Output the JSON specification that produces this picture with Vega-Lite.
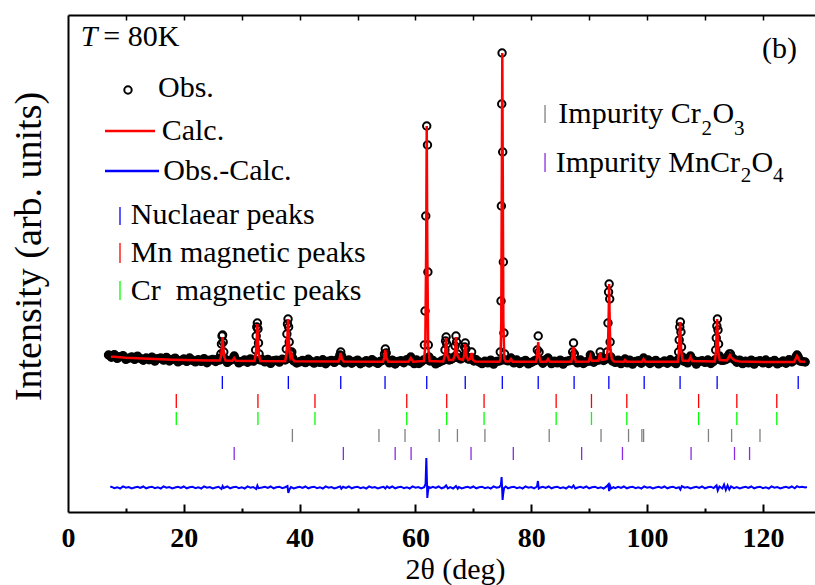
{
 "$schema": "https://vega.github.io/schema/vega-lite/v6.json",
 "width": 747, "height": 497,
 "autosize": {"type": "none"},
 "padding": {"left": 68, "top": 15, "right": 0, "bottom": 73},
 "background": "white",
 "config": {"view": {"stroke": null}, "axis": {"grid": false}, "font": "Liberation Serif, Times New Roman, Times, serif"},
 "resolve": {"axis": {"x": "independent", "y": "independent"}},
 "datasets": {
  "obs": [
   {"x":7.0,"y":157},{"x":7.5,"y":154.8},{"x":8.0,"y":157.4},{"x":8.5,"y":153.7},{"x":9.0,"y":155.3},{"x":9.5,"y":156.4},{"x":10.0,"y":152.6},{"x":10.5,"y":153.9},{"x":11.0,"y":155.1},{"x":11.5,"y":152.7},{"x":12.0,"y":155.9},{"x":12.5,"y":153.5},{"x":13.0,"y":151.8},{"x":13.5,"y":154},{"x":14.0,"y":152.3},{"x":14.5,"y":154.9},{"x":15.0,"y":150.9},{"x":15.5,"y":153.4},{"x":16.0,"y":154},{"x":16.5,"y":151.9},{"x":17.0,"y":154.6},{"x":17.5,"y":151},{"x":18.0,"y":152.6},{"x":18.5,"y":153.8},{"x":19.0,"y":150.2},{"x":19.5,"y":151.6},{"x":20.0,"y":153},{"x":20.5,"y":150.7},{"x":21.0,"y":154},{"x":21.5,"y":151.7},{"x":22.0,"y":150.1},{"x":22.5,"y":152.3},{"x":23.0,"y":150.6},{"x":23.5,"y":153.3},{"x":24.0,"y":149.3},{"x":24.5,"y":151.9},{"x":25.0,"y":152.5},{"x":25.5,"y":150.5},{"x":26.0,"y":153.5},
   {"x":26.2,"y":152},{"x":26.4,"y":158},{"x":26.5,"y":168},{"x":26.6,"y":176},{"x":26.7,"y":177},{"x":26.8,"y":170},{"x":26.9,"y":160},{"x":27.1,"y":153},
   {"x":27.5,"y":149.7},{"x":28.0,"y":151.5},{"x":28.5,"y":153},{"x":28.7,"y":156},{"x":28.9,"y":153},{"x":29.5,"y":149.2},{"x":30.0,"y":150.6},{"x":30.5,"y":152},{"x":31.0,"y":149.8},{"x":31.5,"y":153.1},{"x":32.0,"y":150.9},
   {"x":32.2,"y":152},{"x":32.4,"y":162},{"x":32.5,"y":176},{"x":32.6,"y":185},{"x":32.7,"y":189},{"x":32.8,"y":183},{"x":32.9,"y":169},{"x":33.0,"y":158},{"x":33.2,"y":152},
   {"x":33.5,"y":152.6},{"x":34.0,"y":150.1},{"x":34.5,"y":152.6},{"x":35.0,"y":148.7},{"x":35.5,"y":151.2},{"x":36.0,"y":151.9},{"x":36.5,"y":149.9},{"x":37.0,"y":152.7},
   {"x":37.5,"y":152},{"x":37.7,"y":163},{"x":37.8,"y":178},{"x":37.9,"y":188},{"x":38.0,"y":193},{"x":38.1,"y":185},{"x":38.2,"y":170},{"x":38.35,"y":160},{"x":38.5,"y":158},{"x":38.65,"y":160},{"x":38.8,"y":154},{"x":39.0,"y":151},
   {"x":39.5,"y":149},{"x":40.0,"y":150.2},{"x":40.5,"y":151.6},{"x":41.0,"y":149.4},{"x":41.5,"y":152.7},{"x":42.0,"y":150.5},{"x":42.5,"y":148.9},{"x":43.0,"y":151.2},{"x":43.5,"y":149.6},{"x":44.0,"y":152.2},{"x":44.5,"y":148.3},{"x":45.0,"y":150.9},{"x":45.5,"y":151.6},{"x":46.0,"y":149.6},{"x":46.5,"y":152.4},
   {"x":46.8,"y":152},{"x":46.95,"y":157},{"x":47.1,"y":160},{"x":47.25,"y":156},{"x":47.4,"y":151},
   {"x":47.8,"y":149.1},{"x":48.2,"y":150.6},{"x":48.5,"y":152.1},{"x":49.0,"y":148.8},{"x":49.5,"y":150.6},{"x":50.0,"y":151.9},{"x":50.5,"y":148.3},{"x":51.0,"y":149.8},{"x":51.5,"y":151.2},{"x":52.0,"y":149},{"x":52.5,"y":152.4},{"x":53.0,"y":150.2},{"x":53.5,"y":148.6},{"x":54.0,"y":150.9},
   {"x":54.5,"y":152},{"x":54.65,"y":158},{"x":54.8,"y":163},{"x":54.95,"y":159},{"x":55.1,"y":152},
   {"x":55.5,"y":149.2},{"x":56.0,"y":151.9},{"x":56.5,"y":148},{"x":57.0,"y":150.6},{"x":57.5,"y":151.3},{"x":58.0,"y":149.3},{"x":58.5,"y":152.3},
   {"x":59.0,"y":151},{"x":59.2,"y":155},{"x":59.4,"y":151},
   {"x":59.8,"y":148.4},{"x":60.2,"y":152},{"x":60.6,"y":148.5},{"x":61.0,"y":150.3},
   {"x":61.4,"y":152},{"x":61.55,"y":167},{"x":61.66,"y":201},{"x":61.78,"y":296},{"x":61.95,"y":386},{"x":62.08,"y":367},{"x":62.15,"y":240},{"x":62.22,"y":167},{"x":62.35,"y":155},{"x":62.5,"y":151},
   {"x":63.0,"y":151.6},{"x":63.5,"y":148.1},{"x":64.0,"y":149.6},{"x":64.5,"y":151},
   {"x":64.9,"y":152},{"x":65.1,"y":162},{"x":65.2,"y":171},{"x":65.3,"y":175},{"x":65.4,"y":168},{"x":65.55,"y":155},{"x":65.8,"y":152},{"x":66.1,"y":152.5},{"x":66.4,"y":153.5},{"x":66.7,"y":155},{"x":66.85,"y":166},{"x":67.0,"y":176},{"x":67.1,"y":170},{"x":67.25,"y":158},{"x":67.5,"y":154},{"x":67.8,"y":153},{"x":68.1,"y":154},{"x":68.35,"y":156},{"x":68.5,"y":165},{"x":68.6,"y":169},{"x":68.7,"y":163},{"x":68.85,"y":155},{"x":69.1,"y":153},{"x":69.3,"y":153},{"x":69.5,"y":154},{"x":69.7,"y":160},{"x":69.85,"y":154},{"x":70.1,"y":151},
   {"x":70.5,"y":152.2},{"x":71.0,"y":150},{"x":71.5,"y":148.4},{"x":72.0,"y":150.7},{"x":72.5,"y":149.1},{"x":73.0,"y":151.8},{"x":73.5,"y":147.9},{"x":74.0,"y":150.5},
   {"x":74.5,"y":151},{"x":74.65,"y":160},{"x":74.78,"y":211},{"x":74.84,"y":306},{"x":74.9,"y":408},{"x":74.96,"y":459},{"x":75.07,"y":360},{"x":75.18,"y":250},{"x":75.28,"y":179},{"x":75.4,"y":158},{"x":75.6,"y":152},
   {"x":76.0,"y":151.2},{"x":76.5,"y":154},{"x":77.0,"y":149.2},{"x":77.5,"y":152},{"x":78.0,"y":148.5},{"x":78.5,"y":150.3},{"x":79.0,"y":151.6},{"x":79.5,"y":148.1},{"x":80.0,"y":149.6},{"x":80.5,"y":151},
   {"x":80.9,"y":152},{"x":81.05,"y":162},{"x":81.2,"y":176},{"x":81.35,"y":160},{"x":81.5,"y":152},
   {"x":82.0,"y":148.8},{"x":82.5,"y":152.2},{"x":82.9,"y":154},{"x":83.5,"y":148.4},{"x":84.0,"y":150.7},{"x":84.5,"y":149.1},{"x":85.0,"y":151.8},{"x":85.5,"y":147.9},{"x":86.0,"y":150.5},{"x":86.5,"y":151.2},
   {"x":87.0,"y":152},{"x":87.15,"y":160},{"x":87.3,"y":169},{"x":87.45,"y":158},{"x":87.6,"y":151},
   {"x":88.0,"y":149.2},{"x":88.5,"y":152},{"x":89.0,"y":148.5},{"x":89.5,"y":150.3},
   {"x":90.0,"y":151},{"x":90.2,"y":157},{"x":90.4,"y":151},{"x":90.8,"y":149.8},{"x":91.2,"y":151.6},
   {"x":91.7,"y":152},{"x":91.9,"y":160},{"x":92.05,"y":155},{"x":92.5,"y":151.5},
   {"x":92.9,"y":153},{"x":93.1,"y":160},{"x":93.25,"y":189},{"x":93.35,"y":220},{"x":93.45,"y":228},{"x":93.55,"y":213},{"x":93.62,"y":170},{"x":93.75,"y":155},{"x":94.0,"y":151},
   {"x":94.5,"y":149.6},{"x":95.0,"y":151.8},{"x":95.5,"y":148.4},{"x":95.9,"y":150.7},{"x":96.2,"y":153},{"x":96.6,"y":149.1},{"x":97.0,"y":151.8},{"x":97.5,"y":147.9},{"x":98.0,"y":150.5},{"x":98.5,"y":151.2},{"x":99.0,"y":148.8},{"x":99.4,"y":154},{"x":99.8,"y":151},{"x":100.2,"y":152},{"x":100.5,"y":148.5},{"x":101.0,"y":150.3},{"x":101.5,"y":151.6},{"x":102.0,"y":148.1},{"x":102.5,"y":149.6},{"x":103.0,"y":151},{"x":103.5,"y":148.8},{"x":104.0,"y":152.2},{"x":104.5,"y":150},{"x":105.0,"y":148.4},
   {"x":105.3,"y":152},{"x":105.45,"y":160},{"x":105.55,"y":172},{"x":105.65,"y":185},{"x":105.75,"y":190},{"x":105.85,"y":180},{"x":105.95,"y":165},{"x":106.1,"y":155},{"x":106.3,"y":151},
   {"x":106.6,"y":150.7},{"x":107.0,"y":149.1},{"x":107.3,"y":152},{"x":107.5,"y":156},{"x":107.7,"y":152},
   {"x":108.0,"y":151.8},{"x":108.5,"y":147.9},{"x":109.0,"y":150.5},{"x":109.5,"y":151.2},{"x":110.0,"y":149.6},{"x":110.5,"y":152},{"x":111.0,"y":148.5},{"x":111.4,"y":150.3},
   {"x":111.7,"y":152},{"x":111.85,"y":162},{"x":111.95,"y":174},{"x":112.05,"y":186},{"x":112.15,"y":193},{"x":112.25,"y":182},{"x":112.35,"y":168},{"x":112.5,"y":156},{"x":112.7,"y":152},
   {"x":113.0,"y":151.6},{"x":113.4,"y":152},{"x":113.8,"y":153},{"x":114.0,"y":156},{"x":114.2,"y":158},{"x":114.4,"y":158},{"x":114.6,"y":155},{"x":114.9,"y":153},{"x":115.2,"y":152},
   {"x":115.5,"y":149.8},{"x":116.0,"y":151.8},{"x":116.5,"y":148.4},{"x":117.0,"y":150.7},{"x":117.5,"y":149.1},{"x":118.0,"y":151.8},{"x":118.5,"y":147.9},{"x":119.0,"y":150.5},{"x":119.5,"y":151.2},{"x":120.0,"y":149.2},{"x":120.5,"y":152},{"x":121.0,"y":148.5},{"x":121.5,"y":150.3},{"x":122.0,"y":151.6},{"x":122.5,"y":148.1},{"x":123.0,"y":149.6},{"x":123.5,"y":151},{"x":124.0,"y":148.8},{"x":124.5,"y":152.2},{"x":125.0,"y":150},
   {"x":125.5,"y":152},{"x":125.7,"y":155},{"x":125.9,"y":157},{"x":126.1,"y":155},{"x":126.4,"y":151},
   {"x":126.8,"y":150.5},{"x":127.3,"y":150}
  ],
  "calc": [
   {"x":7.4,"y":155.3},{"x":8,"y":155.2},{"x":9,"y":154.8},{"x":10,"y":154.3},{"x":12,"y":153.7},{"x":14,"y":153.2},{"x":16,"y":152.8},{"x":18,"y":152.3},{"x":20,"y":152},{"x":22,"y":151.7},{"x":24,"y":151.4},
   {"x":26.2,"y":151.4},{"x":26.45,"y":156},{"x":26.6,"y":166},{"x":26.7,"y":175},{"x":26.8,"y":166},{"x":26.95,"y":156},{"x":27.2,"y":151.4},
   {"x":28.4,"y":151.2},{"x":28.7,"y":154},{"x":29.0,"y":151.2},
   {"x":32.2,"y":151},{"x":32.45,"y":158},{"x":32.6,"y":173},{"x":32.7,"y":188},{"x":32.8,"y":173},{"x":32.95,"y":158},{"x":33.2,"y":151},
   {"x":37.5,"y":150.7},{"x":37.75,"y":159},{"x":37.9,"y":176},{"x":38.0,"y":193},{"x":38.1,"y":176},{"x":38.25,"y":160},{"x":38.4,"y":155},{"x":38.6,"y":158},{"x":38.8,"y":153},{"x":39.1,"y":150.7},
   {"x":46.7,"y":150.5},{"x":46.9,"y":153},{"x":47.1,"y":159},{"x":47.3,"y":153},{"x":47.6,"y":150.5},
   {"x":54.4,"y":150.3},{"x":54.6,"y":154},{"x":54.8,"y":162},{"x":55.0,"y":154},{"x":55.3,"y":150.3},
   {"x":58.8,"y":150.2},{"x":59.2,"y":154},{"x":59.6,"y":150.2},
   {"x":61.45,"y":151},{"x":61.7,"y":165},{"x":61.85,"y":260},{"x":61.95,"y":386},{"x":62.05,"y":260},{"x":62.2,"y":165},{"x":62.45,"y":151},
   {"x":64.8,"y":150.5},{"x":65.1,"y":157},{"x":65.3,"y":174},{"x":65.5,"y":157},{"x":65.8,"y":152},{"x":66.5,"y":152},{"x":66.8,"y":157},{"x":67.0,"y":175},{"x":67.2,"y":157},{"x":67.6,"y":153},{"x":68.2,"y":152},{"x":68.4,"y":156},{"x":68.6,"y":168},{"x":68.8,"y":156},{"x":69.1,"y":152},{"x":69.45,"y":153},{"x":69.7,"y":159},{"x":69.95,"y":152},{"x":70.3,"y":150.5},
   {"x":74.5,"y":150.3},{"x":74.7,"y":153},{"x":74.82,"y":190},{"x":74.92,"y":340},{"x":75.0,"y":459},{"x":75.08,"y":340},{"x":75.18,"y":190},{"x":75.35,"y":153},{"x":75.6,"y":150.5},
   {"x":76.2,"y":150.5},{"x":76.5,"y":153},{"x":76.8,"y":150.3},
   {"x":80.8,"y":150.2},{"x":81.0,"y":155},{"x":81.2,"y":170},{"x":81.4,"y":155},{"x":81.6,"y":150.3},
   {"x":82.6,"y":150.2},{"x":82.9,"y":153},{"x":83.2,"y":150.2},
   {"x":86.9,"y":150.2},{"x":87.1,"y":155},{"x":87.3,"y":165},{"x":87.5,"y":155},{"x":87.7,"y":150.3},
   {"x":89.9,"y":150.5},{"x":90.2,"y":156},{"x":90.45,"y":151},{"x":91.6,"y":151.5},{"x":91.9,"y":159},{"x":92.15,"y":152},
   {"x":93.0,"y":153},{"x":93.25,"y":165},{"x":93.38,"y":200},{"x":93.45,"y":228},{"x":93.52,"y":200},{"x":93.65,"y":165},{"x":93.9,"y":153},{"x":94.3,"y":150.5},
   {"x":96.0,"y":150.3},{"x":96.2,"y":152},{"x":96.5,"y":150.3},
   {"x":99.1,"y":150.2},{"x":99.4,"y":153},{"x":99.7,"y":150.2},
   {"x":105.3,"y":150.3},{"x":105.5,"y":160},{"x":105.6,"y":175},{"x":105.7,"y":190},{"x":105.8,"y":175},{"x":105.9,"y":160},{"x":106.15,"y":151.5},
   {"x":107.2,"y":151},{"x":107.5,"y":155},{"x":107.8,"y":151},
   {"x":111.7,"y":150.5},{"x":111.9,"y":160},{"x":112.0,"y":176},{"x":112.1,"y":193},{"x":112.2,"y":176},{"x":112.3,"y":160},{"x":112.55,"y":152},
   {"x":113.8,"y":151.5},{"x":114.3,"y":157},{"x":114.6,"y":154},{"x":115.2,"y":151.5},{"x":116,"y":150.5},{"x":120,"y":150},
   {"x":125.4,"y":150},{"x":125.9,"y":156},{"x":126.4,"y":150.5},{"x":127.3,"y":150.3}
  ],
  "diff": [
   {"x":7.3,"y":25},{"x":7.5,"y":25.3},{"x":8,"y":23.9},{"x":8.5,"y":24.8},{"x":9,"y":23.5},{"x":9.5,"y":25.6},{"x":10,"y":24.3},{"x":10.5,"y":25},{"x":11,"y":23.6},{"x":11.5,"y":24.5},{"x":12,"y":25.2},{"x":12.5,"y":24},{"x":13,"y":25.5},{"x":13.5,"y":23.7},{"x":14,"y":24.7},{"x":14.5,"y":25.3},{"x":15,"y":23.9},{"x":15.5,"y":24.8},{"x":16,"y":23.5},{"x":16.5,"y":25.6},{"x":17,"y":24.3},{"x":17.5,"y":25},{"x":18,"y":23.6},{"x":18.5,"y":24.5},{"x":19,"y":25.2},{"x":19.5,"y":24},{"x":20,"y":25.5},{"x":20.5,"y":23.7},{"x":21,"y":24.7},{"x":21.5,"y":25.3},{"x":22,"y":23.9},{"x":22.5,"y":24.8},{"x":23,"y":23.5},{"x":23.5,"y":25.6},{"x":24,"y":24.3},{"x":24.5,"y":25},{"x":25,"y":23.6},{"x":25.5,"y":24.5},{"x":26,"y":25.2},{"x":26.5,"y":23},{"x":26.7,"y":26},{"x":26.9,"y":24},{"x":27.5,"y":25.5},{"x":28,"y":23.7},{"x":28.5,"y":24.7},{"x":29,"y":25.3},{"x":29.5,"y":23.9},{"x":30,"y":24.8},{"x":30.5,"y":23.5},{"x":31,"y":25.6},{"x":31.5,"y":24.3},{"x":32,"y":25},{"x":32.5,"y":23},{"x":32.7,"y":26.5},{"x":32.9,"y":23.8},{"x":33.5,"y":24.5},{"x":34,"y":25.2},{"x":34.5,"y":24},{"x":35,"y":25.5},{"x":35.5,"y":23.7},{"x":36,"y":24.7},{"x":36.5,"y":25.3},{"x":37,"y":23.9},{"x":37.5,"y":24.8},{"x":37.9,"y":26},{"x":38.05,"y":19},{"x":38.2,"y":22},{"x":38.5,"y":25},{"x":39,"y":23.6},{"x":39.5,"y":24.5},{"x":40,"y":25.2},{"x":40.5,"y":24},{"x":41,"y":25.5},{"x":41.5,"y":23.7},{"x":42,"y":24.7},{"x":42.5,"y":25.3},{"x":43,"y":23.9},{"x":43.5,"y":24.8},{"x":44,"y":23.5},{"x":44.5,"y":25.6},{"x":45,"y":24.3},{"x":45.5,"y":25},{"x":46,"y":23.6},{"x":46.5,"y":24.5},{"x":47,"y":25.6},{"x":47.2,"y":23.2},{"x":47.5,"y":25.2},{"x":48,"y":24},{"x":48.5,"y":25.5},{"x":49,"y":23.7},{"x":49.5,"y":24.7},{"x":50,"y":25.3},{"x":50.5,"y":23.9},{"x":51,"y":24.8},{"x":51.5,"y":23.5},{"x":52,"y":25.6},{"x":52.5,"y":24.3},{"x":53,"y":25},{"x":53.5,"y":23.6},{"x":54,"y":24.5},{"x":54.5,"y":25.2},{"x":54.8,"y":23.5},{"x":55.1,"y":25.6},{"x":55.5,"y":24},{"x":56,"y":25.5},{"x":56.5,"y":23.7},{"x":57,"y":24.7},{"x":57.5,"y":25.3},{"x":58,"y":23.9},{"x":58.5,"y":24.8},{"x":59,"y":23.5},{"x":59.5,"y":25.6},{"x":60,"y":24.3},{"x":60.5,"y":25},{"x":61,"y":23.6},{"x":61.5,"y":24.8},{"x":61.75,"y":28},{"x":61.88,"y":54},{"x":61.98,"y":32},{"x":62.05,"y":14},{"x":62.15,"y":20},{"x":62.3,"y":25},{"x":62.6,"y":24.2},{"x":63,"y":25.2},{"x":63.5,"y":24},{"x":64,"y":25.5},{"x":64.5,"y":23.7},{"x":65,"y":24.7},{"x":65.3,"y":26.5},{"x":65.6,"y":23.6},{"x":66,"y":24.8},{"x":66.5,"y":23.5},{"x":67,"y":26},{"x":67.3,"y":23.3},{"x":67.5,"y":25},{"x":68,"y":23.6},{"x":68.5,"y":24.5},{"x":69,"y":25.2},{"x":69.5,"y":24},{"x":70,"y":25.5},{"x":70.5,"y":23.7},{"x":71,"y":24.7},{"x":71.5,"y":25.3},{"x":72,"y":23.9},{"x":72.5,"y":24.8},{"x":73,"y":23.5},{"x":73.5,"y":25.6},{"x":74,"y":24.3},{"x":74.5,"y":25},{"x":74.75,"y":27},{"x":74.88,"y":35},{"x":74.98,"y":22},{"x":75.05,"y":12},{"x":75.15,"y":18},{"x":75.3,"y":24},{"x":75.6,"y":25.5},{"x":76,"y":23.7},{"x":76.5,"y":24.7},{"x":77,"y":25.3},{"x":77.5,"y":23.9},{"x":78,"y":24.8},{"x":78.5,"y":23.5},{"x":79,"y":25.6},{"x":79.5,"y":24.3},{"x":80,"y":25},{"x":80.5,"y":23.6},{"x":81,"y":25.5},{"x":81.15,"y":31},{"x":81.3,"y":23.5},{"x":81.6,"y":24.5},{"x":82,"y":25.2},{"x":82.5,"y":24},{"x":83,"y":25.5},{"x":83.5,"y":23.7},{"x":84,"y":24.7},{"x":84.5,"y":25.3},{"x":85,"y":23.9},{"x":85.5,"y":24.8},{"x":86,"y":23.5},{"x":86.5,"y":25.6},{"x":87,"y":24.3},{"x":87.3,"y":26.5},{"x":87.6,"y":23.6},{"x":88,"y":24.5},{"x":88.5,"y":25.2},{"x":89,"y":24},{"x":89.5,"y":25.5},{"x":90,"y":23.7},{"x":90.5,"y":24.7},{"x":91,"y":25.3},{"x":91.5,"y":23.9},{"x":92,"y":24.8},{"x":92.5,"y":23.5},{"x":93,"y":25.6},{"x":93.3,"y":27.5},{"x":93.45,"y":21},{"x":93.6,"y":26.5},{"x":93.8,"y":23.5},{"x":94.2,"y":24.8},{"x":94.5,"y":23.8},{"x":95,"y":25.2},{"x":95.5,"y":24},{"x":96,"y":25.5},{"x":96.5,"y":23.7},{"x":97,"y":24.7},{"x":97.5,"y":25.3},{"x":98,"y":23.9},{"x":98.5,"y":24.8},{"x":99,"y":23.5},{"x":99.5,"y":25.6},{"x":100,"y":24.3},{"x":100.5,"y":25},{"x":101,"y":23.6},{"x":101.5,"y":24.5},{"x":102,"y":25.2},{"x":102.5,"y":24},{"x":103,"y":25.5},{"x":103.5,"y":23.7},{"x":104,"y":24.7},{"x":104.5,"y":25.3},{"x":105,"y":23.9},{"x":105.5,"y":24.8},{"x":105.75,"y":22.5},{"x":106,"y":25.8},{"x":106.5,"y":24.3},{"x":107,"y":25},{"x":107.5,"y":23.6},{"x":108,"y":24.5},{"x":108.5,"y":25.2},{"x":109,"y":24},{"x":109.5,"y":25.5},{"x":110,"y":23.7},{"x":110.5,"y":24.7},{"x":111,"y":25.3},{"x":111.5,"y":23.9},{"x":112,"y":26.5},{"x":112.2,"y":21.5},{"x":112.5,"y":25.5},{"x":113,"y":23.5},{"x":113.3,"y":27.5},{"x":113.6,"y":22},{"x":113.9,"y":26.5},{"x":114.2,"y":22.5},{"x":114.5,"y":25.6},{"x":115,"y":23.8},{"x":115.5,"y":25},{"x":116,"y":23.6},{"x":116.5,"y":24.5},{"x":117,"y":25.2},{"x":117.5,"y":24},{"x":118,"y":25.5},{"x":118.5,"y":23.7},{"x":119,"y":24.7},{"x":119.5,"y":25.3},{"x":120,"y":23.9},{"x":120.5,"y":24.8},{"x":121,"y":23.5},{"x":121.5,"y":25.6},{"x":122,"y":24.3},{"x":122.5,"y":25},{"x":123,"y":23.6},{"x":123.5,"y":24.5},{"x":124,"y":25.2},{"x":124.5,"y":24},{"x":125,"y":25.5},{"x":125.5,"y":23.7},{"x":125.9,"y":25.8},{"x":126.3,"y":24.7},{"x":126.8,"y":25.3},{"x":127.3,"y":24.5},{"x":127.6,"y":25}
  ],
  "refl": [
   {"x":26.65,"phase":"nuc"},{"x":38.05,"phase":"nuc"},{"x":47.1,"phase":"nuc"},{"x":54.75,"phase":"nuc"},{"x":61.95,"phase":"nuc"},{"x":68.6,"phase":"nuc"},{"x":75.0,"phase":"nuc"},{"x":81.2,"phase":"nuc"},{"x":87.4,"phase":"nuc"},{"x":93.4,"phase":"nuc"},{"x":99.5,"phase":"nuc"},{"x":105.7,"phase":"nuc"},{"x":112.1,"phase":"nuc"},{"x":126.1,"phase":"nuc"},
   {"x":18.7,"phase":"mn"},{"x":32.8,"phase":"mn"},{"x":42.65,"phase":"mn"},{"x":58.5,"phase":"mn"},{"x":65.4,"phase":"mn"},{"x":71.85,"phase":"mn"},{"x":84.3,"phase":"mn"},{"x":90.4,"phase":"mn"},{"x":96.5,"phase":"mn"},{"x":108.9,"phase":"mn"},{"x":115.5,"phase":"mn"},{"x":122.4,"phase":"mn"},
   {"x":18.7,"phase":"cr"},{"x":32.8,"phase":"cr"},{"x":42.65,"phase":"cr"},{"x":58.5,"phase":"cr"},{"x":65.4,"phase":"cr"},{"x":71.85,"phase":"cr"},{"x":84.3,"phase":"cr"},{"x":90.4,"phase":"cr"},{"x":96.5,"phase":"cr"},{"x":108.9,"phase":"cr"},{"x":115.5,"phase":"cr"},{"x":122.4,"phase":"cr"},
   {"x":38.75,"phase":"cr2o3"},{"x":53.7,"phase":"cr2o3"},{"x":58.2,"phase":"cr2o3"},{"x":64.1,"phase":"cr2o3"},{"x":67.25,"phase":"cr2o3"},{"x":72.0,"phase":"cr2o3"},{"x":83.1,"phase":"cr2o3"},{"x":92.05,"phase":"cr2o3"},{"x":96.8,"phase":"cr2o3"},{"x":99.1,"phase":"cr2o3"},{"x":99.4,"phase":"cr2o3"},{"x":110.6,"phase":"cr2o3"},{"x":114.6,"phase":"cr2o3"},{"x":119.5,"phase":"cr2o3"},
   {"x":28.7,"phase":"mncr2o4"},{"x":47.55,"phase":"mncr2o4"},{"x":56.5,"phase":"mncr2o4"},{"x":59.25,"phase":"mncr2o4"},{"x":69.6,"phase":"mncr2o4"},{"x":76.9,"phase":"mncr2o4"},{"x":88.7,"phase":"mncr2o4"},{"x":95.75,"phase":"mncr2o4"},{"x":107.6,"phase":"mncr2o4"},{"x":115.1,"phase":"mncr2o4"},{"x":117.7,"phase":"mncr2o4"}
  ]
 },
 "layer": [
  {
   "data": {"name": "obs"},
   "transform": [{"filter": "datum.y < 158"}],
   "mark": {"type": "line", "color": "black", "strokeWidth": 8, "strokeJoin": "round", "strokeCap": "round"},
   "encoding": {
    "x": {"field": "x", "type": "quantitative", "scale": {"domain": [0, 129], "nice": false, "zero": false},
     "axis": {"orient": "bottom", "values": [0, 20, 40, 60, 80, 100, 120], "ticks": false, "tickSize": 0, "domain": true, "domainColor": "black", "domainWidth": 2,
      "labelFont": "Liberation Serif, Times New Roman, Times, serif", "labelFontWeight": "bold", "labelFontSize": 28, "labelColor": "black", "labelPadding": 34, "labelBaseline": "alphabetic", "labelFlush": false, "labelOverlap": false,
      "title": "2θ (deg)", "titleFont": "Liberation Serif, Times New Roman, Times, serif", "titleFontSize": 30, "titleFontWeight": "normal", "titleColor": "black", "titleX": 387, "titleY": 66, "titleBaseline": "alphabetic", "titleAlign": "center", "grid": false}},
    "y": {"field": "y", "type": "quantitative", "scale": {"domain": [0, 497], "nice": false, "zero": false},
     "axis": {"orient": "left", "ticks": false, "labels": false, "domain": true, "domainColor": "black", "domainWidth": 2,
      "title": "Intensity (arb. units)", "titleFont": "Liberation Serif, Times New Roman, Times, serif", "titleFontSize": 38, "titleFontWeight": "normal", "titleColor": "black", "titleX": -28, "titleY": 231, "titleAngle": -90, "titleBaseline": "alphabetic", "titleAlign": "center", "grid": false}}
   }
  },
  {
   "data": {"name": "obs"},
   "mark": {"type": "point", "shape": "circle", "filled": false, "stroke": "black", "strokeWidth": 2, "size": 55, "opacity": 1},
   "encoding": {
    "x": {"field": "x", "type": "quantitative", "scale": {"domain": [0, 129], "nice": false, "zero": false}, "axis": null},
    "y": {"field": "y", "type": "quantitative", "scale": {"domain": [0, 497], "nice": false, "zero": false}, "axis": null}
   }
  },
  {
   "data": {"name": "calc"},
   "mark": {"type": "line", "color": "#ff0000", "strokeWidth": 2.5},
   "encoding": {
    "x": {"field": "x", "type": "quantitative", "scale": {"domain": [0, 129], "nice": false, "zero": false},
     "axis": {"orient": "bottom", "values": [20, 40, 60, 80, 100, 120], "tickSize": -8, "tickWidth": 2, "tickColor": "black", "labels": false, "domain": false, "title": null, "grid": false}},
    "y": {"field": "y", "type": "quantitative", "scale": {"domain": [0, 497], "nice": false, "zero": false}, "axis": null}
   }
  },
  {
   "data": {"name": "diff"},
   "mark": {"type": "line", "color": "#0000ff", "strokeWidth": 2},
   "encoding": {
    "x": {"field": "x", "type": "quantitative", "scale": {"domain": [0, 129], "nice": false, "zero": false},
     "axis": {"orient": "bottom", "values": [10, 30, 50, 70, 90, 110], "tickSize": -4, "tickWidth": 2, "tickColor": "black", "labels": false, "domain": false, "title": null, "grid": false}},
    "y": {"field": "y", "type": "quantitative", "scale": {"domain": [0, 497], "nice": false, "zero": false}, "axis": null}
   }
  },
  {
   "data": {"name": "refl"},
   "transform": [{"filter": "datum.phase === 'nuc'"}],
   "mark": {"type": "rule", "color": "#0000ff", "strokeWidth": 1.3},
   "encoding": {
    "x": {"field": "x", "type": "quantitative", "scale": {"domain": [0, 129], "nice": false, "zero": false},
     "axis": {"orient": "top", "values": [10, 20, 30, 40, 50, 60, 70, 80, 90, 100, 110, 120], "tickSize": -5, "tickWidth": 1.5, "tickColor": "black", "labels": false, "domain": true, "domainColor": "black", "domainWidth": 2, "title": null, "grid": false}},
    "y": {"datum": 136, "type": "quantitative", "scale": {"domain": [0, 497], "nice": false, "zero": false}, "axis": null},
    "y2": {"datum": 123}
   }
  },
  {
   "data": {"name": "refl"},
   "transform": [{"filter": "datum.phase === 'mn'"}],
   "mark": {"type": "rule", "color": "#ff0000", "strokeWidth": 1.3},
   "encoding": {
    "x": {"field": "x", "type": "quantitative", "scale": {"domain": [0, 129], "nice": false, "zero": false}, "axis": null},
    "y": {"datum": 118, "type": "quantitative", "scale": {"domain": [0, 497], "nice": false, "zero": false}, "axis": null},
    "y2": {"datum": 104}
   }
  },
  {
   "data": {"name": "refl"},
   "transform": [{"filter": "datum.phase === 'cr'"}],
   "mark": {"type": "rule", "color": "#00ff00", "strokeWidth": 1.3},
   "encoding": {
    "x": {"field": "x", "type": "quantitative", "scale": {"domain": [0, 129], "nice": false, "zero": false}, "axis": null},
    "y": {"datum": 100, "type": "quantitative", "scale": {"domain": [0, 497], "nice": false, "zero": false}, "axis": null},
    "y2": {"datum": 87}
   }
  },
  {
   "data": {"name": "refl"},
   "transform": [{"filter": "datum.phase === 'cr2o3'"}],
   "mark": {"type": "rule", "color": "#808080", "strokeWidth": 1.3},
   "encoding": {
    "x": {"field": "x", "type": "quantitative", "scale": {"domain": [0, 129], "nice": false, "zero": false}, "axis": null},
    "y": {"datum": 83, "type": "quantitative", "scale": {"domain": [0, 497], "nice": false, "zero": false}, "axis": null},
    "y2": {"datum": 70}
   }
  },
  {
   "data": {"name": "refl"},
   "transform": [{"filter": "datum.phase === 'mncr2o4'"}],
   "mark": {"type": "rule", "color": "#8a2be2", "strokeWidth": 1.3},
   "encoding": {
    "x": {"field": "x", "type": "quantitative", "scale": {"domain": [0, 129], "nice": false, "zero": false}, "axis": null},
    "y": {"datum": 65, "type": "quantitative", "scale": {"domain": [0, 497], "nice": false, "zero": false}, "axis": null},
    "y2": {"datum": 52}
   }
  },
  {
   "data": {"values": [{}]},
   "mark": {"type": "point", "shape": "circle", "filled": false, "stroke": "black", "strokeWidth": 2, "size": 55, "opacity": 1},
   "encoding": {"x": {"datum": 10.36, "type": "quantitative", "axis": null}, "y": {"datum": 422, "type": "quantitative", "axis": null}}
  },
  {
   "data": {"values": [{}]},
   "mark": {"type": "rule", "color": "#ff0000", "strokeWidth": 2.5},
   "encoding": {"x": {"datum": 6.39, "type": "quantitative", "axis": null}, "x2": {"datum": 15.03}, "y": {"datum": 381, "type": "quantitative", "axis": null}}
  },
  {
   "data": {"values": [{}]},
   "mark": {"type": "rule", "color": "#0000ff", "strokeWidth": 2.5},
   "encoding": {"x": {"datum": 6.39, "type": "quantitative", "axis": null}, "x2": {"datum": 15.72}, "y": {"datum": 341, "type": "quantitative", "axis": null}}
  },
  {
   "data": {"values": [{}]},
   "mark": {"type": "rule", "color": "#0000ff", "strokeWidth": 1.3},
   "encoding": {"x": {"datum": 8.98, "type": "quantitative", "axis": null}, "y": {"datum": 305, "type": "quantitative", "axis": null}, "y2": {"datum": 287}}
  },
  {
   "data": {"values": [{}]},
   "mark": {"type": "rule", "color": "#ff0000", "strokeWidth": 1.3},
   "encoding": {"x": {"datum": 8.98, "type": "quantitative", "axis": null}, "y": {"datum": 269, "type": "quantitative", "axis": null}, "y2": {"datum": 249}}
  },
  {
   "data": {"values": [{}]},
   "mark": {"type": "rule", "color": "#00ff00", "strokeWidth": 1.3},
   "encoding": {"x": {"datum": 8.98, "type": "quantitative", "axis": null}, "y": {"datum": 231, "type": "quantitative", "axis": null}, "y2": {"datum": 212}}
  },
  {
   "data": {"values": [{}]},
   "mark": {"type": "rule", "color": "#808080", "strokeWidth": 1.3},
   "encoding": {"x": {"datum": 82.38, "type": "quantitative", "axis": null}, "y": {"datum": 407, "type": "quantitative", "axis": null}, "y2": {"datum": 389}}
  },
  {
   "data": {"values": [{}]},
   "mark": {"type": "rule", "color": "#8a2be2", "strokeWidth": 1.3},
   "encoding": {"x": {"datum": 82.38, "type": "quantitative", "axis": null}, "y": {"datum": 359, "type": "quantitative", "axis": null}, "y2": {"datum": 340}}
  },
  {
   "data": {"values": [{}]},
   "mark": {"type": "text", "text": "T", "fontStyle": "italic", "align": "left", "baseline": "alphabetic", "font": "Liberation Serif, Times New Roman, Times, serif", "fontSize": 30, "color": "black"},
   "encoding": {"x": {"datum": 2.19, "type": "quantitative", "axis": null}, "y": {"datum": 466, "type": "quantitative", "axis": null}}
  },
  {
   "data": {"values": [{}]},
   "mark": {"type": "text", "text": "= 80K", "align": "left", "baseline": "alphabetic", "font": "Liberation Serif, Times New Roman, Times, serif", "fontSize": 30, "color": "black"},
   "encoding": {"x": {"datum": 6.1, "type": "quantitative", "axis": null}, "y": {"datum": 466, "type": "quantitative", "axis": null}}
  },
  {
   "data": {"values": [{}]},
   "mark": {"type": "text", "text": "(b)", "align": "right", "baseline": "alphabetic", "font": "Liberation Serif, Times New Roman, Times, serif", "fontSize": 30, "color": "black"},
   "encoding": {"x": {"datum": 125.9, "type": "quantitative", "axis": null}, "y": {"datum": 454, "type": "quantitative", "axis": null}}
  },
  {
   "data": {"values": [{}]},
   "mark": {"type": "text", "text": "Obs.", "align": "left", "baseline": "alphabetic", "font": "Liberation Serif, Times New Roman, Times, serif", "fontSize": 30, "color": "black"},
   "encoding": {"x": {"datum": 15.54, "type": "quantitative", "axis": null}, "y": {"datum": 415.5, "type": "quantitative", "axis": null}}
  },
  {
   "data": {"values": [{}]},
   "mark": {"type": "text", "text": "Calc.", "align": "left", "baseline": "alphabetic", "font": "Liberation Serif, Times New Roman, Times, serif", "fontSize": 30, "color": "black"},
   "encoding": {"x": {"datum": 16.18, "type": "quantitative", "axis": null}, "y": {"datum": 372, "type": "quantitative", "axis": null}}
  },
  {
   "data": {"values": [{}]},
   "mark": {"type": "text", "text": "Obs.-Calc.", "align": "left", "baseline": "alphabetic", "font": "Liberation Serif, Times New Roman, Times, serif", "fontSize": 30, "color": "black"},
   "encoding": {"x": {"datum": 16.46, "type": "quantitative", "axis": null}, "y": {"datum": 332, "type": "quantitative", "axis": null}}
  },
  {
   "data": {"values": [{}]},
   "mark": {"type": "text", "text": "Nuclaear peaks", "align": "left", "baseline": "alphabetic", "font": "Liberation Serif, Times New Roman, Times, serif", "fontSize": 30, "color": "black"},
   "encoding": {"x": {"datum": 10.83, "type": "quantitative", "axis": null}, "y": {"datum": 288.5, "type": "quantitative", "axis": null}}
  },
  {
   "data": {"values": [{}]},
   "mark": {"type": "text", "text": "Mn magnetic peaks", "align": "left", "baseline": "alphabetic", "font": "Liberation Serif, Times New Roman, Times, serif", "fontSize": 30, "color": "black"},
   "encoding": {"x": {"datum": 10.83, "type": "quantitative", "axis": null}, "y": {"datum": 250.5, "type": "quantitative", "axis": null}}
  },
  {
   "data": {"values": [{}]},
   "mark": {"type": "text", "text": "Cr \u00a0magnetic peaks", "align": "left", "baseline": "alphabetic", "font": "Liberation Serif, Times New Roman, Times, serif", "fontSize": 30, "color": "black"},
   "encoding": {"x": {"datum": 10.83, "type": "quantitative", "axis": null}, "y": {"datum": 212.5, "type": "quantitative", "axis": null}}
  },
  {
   "data": {"values": [{}]},
   "mark": {"type": "text", "text": "Impurity Cr", "align": "left", "baseline": "alphabetic", "font": "Liberation Serif, Times New Roman, Times, serif", "fontSize": 30, "color": "black"},
   "encoding": {"x": {"datum": 84.68, "type": "quantitative", "axis": null}, "y": {"datum": 388.7, "type": "quantitative", "axis": null}}
  },
  {
   "data": {"values": [{}]},
   "mark": {"type": "text", "text": "2", "align": "left", "baseline": "alphabetic", "font": "Liberation Serif, Times New Roman, Times, serif", "fontSize": 21, "color": "black"},
   "encoding": {"x": {"datum": 109.41, "type": "quantitative", "axis": null}, "y": {"datum": 377, "type": "quantitative", "axis": null}}
  },
  {
   "data": {"values": [{}]},
   "mark": {"type": "text", "text": "O", "align": "left", "baseline": "alphabetic", "font": "Liberation Serif, Times New Roman, Times, serif", "fontSize": 30, "color": "black"},
   "encoding": {"x": {"datum": 111.31, "type": "quantitative", "axis": null}, "y": {"datum": 388.7, "type": "quantitative", "axis": null}}
  },
  {
   "data": {"values": [{}]},
   "mark": {"type": "text", "text": "3", "align": "left", "baseline": "alphabetic", "font": "Liberation Serif, Times New Roman, Times, serif", "fontSize": 21, "color": "black"},
   "encoding": {"x": {"datum": 115.03, "type": "quantitative", "axis": null}, "y": {"datum": 377, "type": "quantitative", "axis": null}}
  },
  {
   "data": {"values": [{}]},
   "mark": {"type": "text", "text": "Impurity MnCr", "align": "left", "baseline": "alphabetic", "font": "Liberation Serif, Times New Roman, Times, serif", "fontSize": 30, "color": "black"},
   "encoding": {"x": {"datum": 84.23, "type": "quantitative", "axis": null}, "y": {"datum": 340.3, "type": "quantitative", "axis": null}}
  },
  {
   "data": {"values": [{}]},
   "mark": {"type": "text", "text": "2", "align": "left", "baseline": "alphabetic", "font": "Liberation Serif, Times New Roman, Times, serif", "fontSize": 21, "color": "black"},
   "encoding": {"x": {"datum": 116.16, "type": "quantitative", "axis": null}, "y": {"datum": 330.3, "type": "quantitative", "axis": null}}
  },
  {
   "data": {"values": [{}]},
   "mark": {"type": "text", "text": "O", "align": "left", "baseline": "alphabetic", "font": "Liberation Serif, Times New Roman, Times, serif", "fontSize": 30, "color": "black"},
   "encoding": {"x": {"datum": 118.05, "type": "quantitative", "axis": null}, "y": {"datum": 340.3, "type": "quantitative", "axis": null}}
  },
  {
   "data": {"values": [{}]},
   "mark": {"type": "text", "text": "4", "align": "left", "baseline": "alphabetic", "font": "Liberation Serif, Times New Roman, Times, serif", "fontSize": 21, "color": "black"},
   "encoding": {"x": {"datum": 121.76, "type": "quantitative", "axis": null}, "y": {"datum": 330.3, "type": "quantitative", "axis": null}}
  }
 ]
}
